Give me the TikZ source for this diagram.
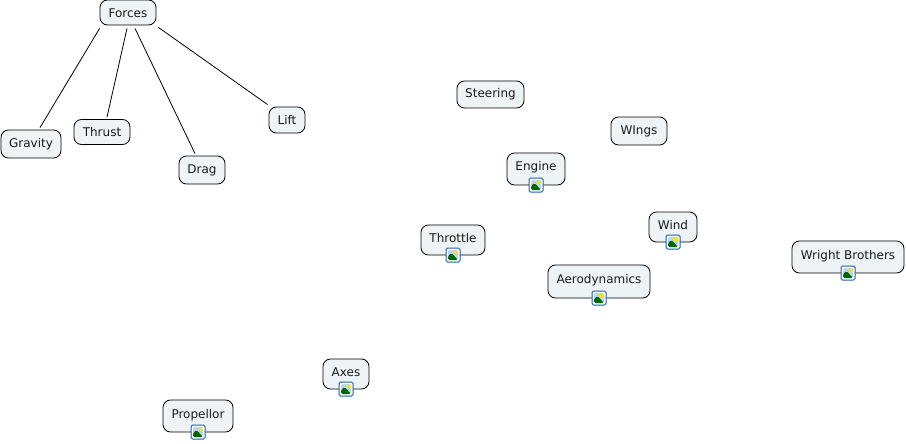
\documentclass[tikz,border=0pt]{standalone}
\usepackage{fontspec}
\setmainfont{DejaVu Sans}
\definecolor{conceptfill}{HTML}{EEF4F6}
\definecolor{iconblue}{HTML}{1F5FB0}
\definecolor{iconsky}{HTML}{B9D6EE}
\tikzstyle{concept} = [draw=black, line width=0.8pt, fill=conceptfill, rounded corners=7.5pt, font={\fontsize{12pt}{14pt}\selectfont}, inner sep=0pt, text=black!90]
\tikzstyle{withimg} = [text depth=5pt, text height=9pt]
\tikzstyle{imgicon} = [draw=iconblue, fill=white, rounded corners=1.5pt, line width=1pt, minimum size=14pt, inner sep=0pt,
  path picture={
    \fill[iconsky] ([xshift=2pt,yshift=2pt]path picture bounding box.south west) rectangle ([xshift=-2pt,yshift=-2pt]path picture bounding box.north east);
    \fill[green!40!black] ([xshift=2pt,yshift=2pt]path picture bounding box.south west) -- ++(0pt,4pt) -- ++(3.5pt,3pt) -- ++(6.5pt,-7pt) -- cycle;
    \fill[yellow!85!orange] ([xshift=-4.5pt,yshift=-4.5pt]path picture bounding box.north east) circle (2pt);
  }]
\tikzstyle{link} = [black, line width=0.8pt]

\begin{document}
\begin{tikzpicture}[x=1pt,y=-1pt]
        \useasboundingbox (0,0) rectangle (906,444);
        \node[concept,text height=11pt,minimum width=56pt,minimum height=25pt](forces) at (128,12.5){Forces};
        \node[concept,minimum width=60pt,minimum height=28pt](gravity) at (31,144){Gravity};
        \node[concept,minimum width=56pt,minimum height=25pt](thrust) at (102,132){Thrust};
        \node[concept,minimum width=46pt,minimum height=28pt](drag) at (202,170){Drag};
        \node[concept,minimum width=36pt,minimum height=26pt](lift) at (287,120){Lift};
        \node[concept,minimum width=67pt,minimum height=27pt](steering) at (490.5,94.5){Steering};
        \node[concept,minimum width=56pt,minimum height=28pt](wings) at (639,131){WIngs};
        \node[concept,withimg,minimum width=58pt,minimum height=32pt](engine) at (536,169){Engine};
        \node[concept,withimg,minimum width=64pt,minimum height=30pt](throttle) at (453,240){Throttle};
        \node[concept,withimg,minimum width=48pt,minimum height=30pt](wind) at (673,227){Wind};
        \node[concept,withimg,minimum width=102pt,minimum height=33pt](aero) at (599,281.5){Aerodynamics};
        \node[concept,withimg,minimum width=112pt,minimum height=32pt](wright) at (848,257){Wright Brothers};
        \node[concept,withimg,minimum width=46pt,minimum height=30pt](axes) at (346,374){Axes};
        \node[concept,withimg,minimum width=70pt,minimum height=32pt](propellor) at (198,416){Propellor};
        \node[imgicon](engineimg) at (536,185){};
        \node[imgicon](throttleimg) at (453,255){};
        \node[imgicon](windimg) at (673,242){};
        \node[imgicon](aeroimg) at (599,298){};
        \node[imgicon](wrightimg) at (848,273){};
        \node[imgicon](axesimg) at (346,389){};
        \node[imgicon](propellorimg) at (198,432){};
        \draw[link]([yshift=-3pt]forces.south west)--([xshift=9pt,yshift=2pt]gravity.north);
        \draw[link]([xshift=-1pt,yshift=-3pt]forces.south)--([xshift=5pt,yshift=2pt]thrust.north);
        \draw[link]([xshift=7pt,yshift=-3pt]forces.south)--([xshift=-7pt,yshift=2pt]drag.north);
        \draw[link]([xshift=2pt,yshift=-2pt]forces.south east)--([xshift=-1pt,yshift=2pt]lift.north west);
      \end{tikzpicture}
\end{document}
